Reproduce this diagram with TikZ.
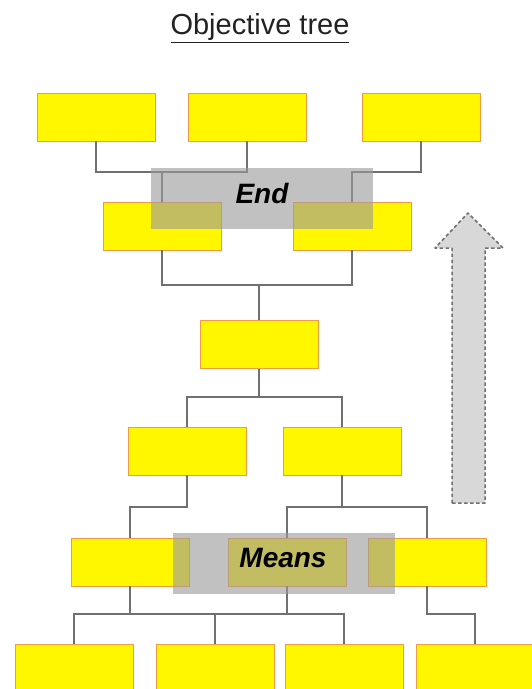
\documentclass[tikz,border=0pt]{standalone}
\usepackage{fontspec}
\setmainfont{Liberation Sans}

\definecolor{boxfill}{RGB}{255,247,0}
\definecolor{boxline}{RGB}{238,156,70}
\definecolor{linkgray}{RGB}{112,112,112}
\definecolor{hlgray}{RGB}{155,155,155}
\definecolor{arrowfill}{RGB}{216,216,216}
\definecolor{arrowline}{RGB}{112,112,112}
\definecolor{titlegray}{RGB}{34,34,34}

\begin{document}
\begin{tikzpicture}
    [x=1pt, y=-1pt,
     obj/.style={rectangle, draw=boxline, fill=boxfill, line width=0.9pt, minimum width=118pt, minimum height=48pt, inner sep=0pt},
     link/.style={draw=linkgray, line width=1.4pt},
     hl/.style={rectangle, fill=hlgray, fill opacity=0.62, minimum width=222pt, minimum height=61pt, inner sep=0pt},
     lbl/.style={font=\fontsize{28}{32}\selectfont\bfseries\itshape, inner sep=0pt},
     up/.style={draw=arrowline, fill=arrowfill, line width=1.5pt, dash pattern=on 3.5pt off 2.5pt, line join=round}]

    \useasboundingbox (0,0) rectangle (532,689);
    \clip (0,0) rectangle (532,689);

    \node [font=\fontsize{29}{34}\selectfont, text=titlegray, anchor=base, inner sep=0pt] (title) at (260,34.5) {
	\underline{Objective tree}
    };

    % ends
    \node [obj] (a1) at (96,117) {};
    \node [obj] (a2) at (247,117) {};
    \node [obj] (a3) at (421,117) {};
    \node [obj] (b1) at (162,226) {};
    \node [obj] (b2) at (352,226) {};

    % core objective
    \node [obj] (c0) at (259,344.5) {};

    % means
    \node [obj] (d1) at (187,451) {};
    \node [obj] (d2) at (342,451) {};
    \node [obj] (e1) at (130,562) {};
    \node [obj] (e2) at (287,562) {};
    \node [obj] (e3) at (427,562) {};
    \node [obj] (f1) at (74,668) {};
    \node [obj] (f2) at (215,668) {};
    \node [obj] (f3) at (344,668) {};
    \node [obj] (f4) at (475,668) {};

    \coordinate (busA) at (0,172);
    \coordinate (busB) at (0,285);
    \coordinate (busC) at (0,397);
    \coordinate (busD) at (0,507);
    \coordinate (busE) at (0,614);

    \draw [link] (a1.south) |- (busA -| b1) -- (b1.north);
    \draw [link] (a2.south) |- (busA -| b1);
    \draw [link] (a3.south) |- (busA -| b2) -- (b2.north);

    \draw [link] (b1.south) |- (busB -| c0) -| (b2.south);
    \draw [link] (c0.north) -- (c0 |- busB);

    \draw [link] (c0.south) -- (c0 |- busC);
    \draw [link] (d1.north) |- (busC -| c0) -| (d2.north);

    \draw [link] (d1.south) |- (busD -| e1) -- (e1.north);
    \draw [link] (d2.south) -- (d2 |- busD);
    \draw [link] (e2.north) |- (busD -| d2) -| (e3.north);

    \draw [link] (f1.north) |- (busE -| f3) -- (f3.north);
    \draw [link] (e1.south) -- (e1 |- busE);
    \draw [link] (e2.south) -- (e2 |- busE);
    \draw [link] (f2.north) -- (f2 |- busE);
    \draw [link] (e3.south) |- (busE -| f4) -- (f4.north);

    \node [hl] (endbox) at (262,198) {};
    \node [hl] (meansbox) at (283.5,563.5) {};
    \node [lbl] (endtxt) at (262,193.5) {End};
    \node [lbl] (meanstxt) at (283,557.5) {Means};

    \draw [up] (452,503) -- (452,248) -- (435,248) -- (468,213) -- (503,248) -- (485,248) -- (485,503) -- cycle;
\end{tikzpicture}
\end{document}
